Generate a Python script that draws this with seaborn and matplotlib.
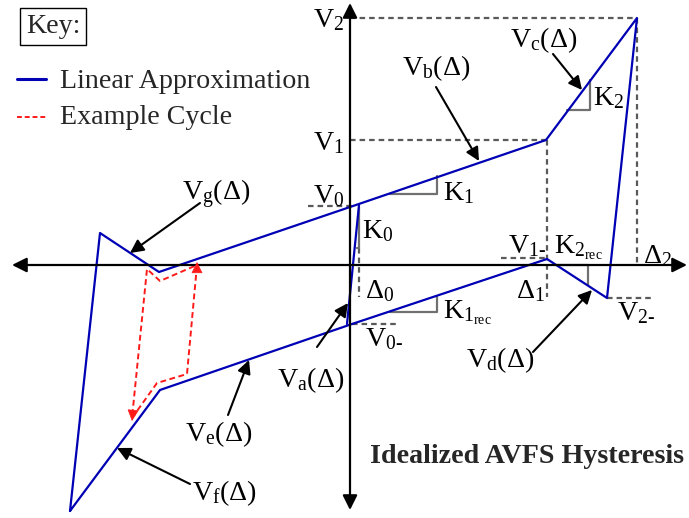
import numpy as np
import pandas as pd
import matplotlib
matplotlib.use("Agg")
import matplotlib.pyplot as plt
import seaborn as sns

sns.set_theme(style="white")
plt.rcParams["font.family"] = ["Liberation Serif", "DejaVu Sans"]
plt.rcParams["mathtext.fontset"] = "custom"
plt.rcParams["mathtext.rm"] = "Liberation Serif"
plt.rcParams["mathtext.it"] = "Liberation Serif:italic"
plt.rcParams["mathtext.bf"] = "Liberation Serif:bold"

# Backbone / hysteresis envelope (displacement, force), idealized units
loop_x = [-280, -250, -191, 3, 196, 287, 257, 197, 2, -190, -280]
loop_y = [-246, 32, -7, 59, 125, 247, -33, 6, -59, -125, -246]
# Initial stiffness branch V_a
va_x = [-3, 9]
va_y = [-59, 60]

# Example cycle
cyc_x = [-218, -193, -163, -153, -153, -190, -203, -218]
cyc_y = [-153, -118, -109, 0, 0, -16, -4, -153]

# Reference (dashed) lines: name -> (x0, y0, x1, y1)
ref_lines = {
    "V2": (0, 247, 287, 247), "D2": (287, 247, 287, 0),
    "V1": (0, 125, 197, 125), "D1": (197, 125, 197, -32),
    "V0": (-42, 59, 3, 59), "D0": (9, 17, 9, -32),
    "V0m": (2, -59, 48, -59), "V1m": (151, 7, 197, 7),
    "V2m": (257, -33, 303, -33),
}
# Stiffness triangles
tri = {
    "K0": ([9, 9, 7], [58, 17, 17]),
    "K1": ([40, 87, 87], [71, 71, 89]),
    "K1rec": ([40, 87, 87], [-47, -47, -32]),
    "K2": ([217, 240, 240], [155, 155, 185]),
    "K2rec": ([206, 238, 238], [0, 0, -20]),
}

BLUE = "#0000b4"
RED = "#ff1a1a"
GRAY = "#5a5a5a"
FS = 20.2

fig = plt.figure(figsize=(6.89, 5.18), dpi=100)
ax = fig.add_axes([0, 0, 1, 1])
ax.set_xlim(-350, 339)
ax.set_ylim(-253, 265)
ax.axis("off")

# Coordinate axes with arrowheads
ax.annotate("", xy=(-338, 0), xytext=(337, 0),
            arrowprops=dict(arrowstyle="<|-|>", color="black", lw=1.6,
                            mutation_scale=22, shrinkA=0, shrinkB=0))
ax.annotate("", xy=(0, 262), xytext=(0, -245),
            arrowprops=dict(arrowstyle="<|-|>", color="black", lw=1.6,
                            mutation_scale=22, shrinkA=0, shrinkB=0))

# Dashed reference lines
ref_df = pd.DataFrame(
    [(k, x, y) for k, (x0, y0, x1, y1) in ref_lines.items()
     for x, y in ((x0, y0), (x1, y1))],
    columns=["seg", "x", "y"])
sns.lineplot(data=ref_df, x="x", y="y", units="seg", estimator=None, sort=False,
             color=GRAY, lw=1.6, linestyle=(0, (2.5, 1.8)), ax=ax, legend=False)

# Stiffness triangles
tri_df = pd.DataFrame(
    [(k, x, y) for k, (xs, ys) in tri.items() for x, y in zip(xs, ys)],
    columns=["seg", "x", "y"])
sns.lineplot(data=tri_df, x="x", y="y", units="seg", estimator=None, sort=False,
             color="#707070", lw=1.6, ax=ax, legend=False)

# Envelope
sns.lineplot(x=loop_x, y=loop_y, sort=False, estimator=None, color=BLUE, lw=1.6, ax=ax)
sns.lineplot(x=va_x, y=va_y, sort=False, estimator=None, color=BLUE, lw=1.6, ax=ax)

# Example cycle
sns.lineplot(x=cyc_x, y=cyc_y, sort=False, estimator=None, color=RED, lw=1.4,
             linestyle=(0, (3, 1.8)), ax=ax)
for tip, back in (((-153, 3), (-153, -6)), ((-218, -156), (-217, -146))):
    ax.annotate("", xy=tip, xytext=back,
                arrowprops=dict(arrowstyle="-|>", color=RED, lw=0.5,
                                mutation_scale=18, shrinkA=0, shrinkB=0))

# Pointer arrows for branch labels
pointers = [((86, 178), (129, 104)), ((203, 211), (232, 175)),
            ((-150, 62), (-220, 12)), ((-33, -82), (-2, -38)),
            ((183, -87), (242, -25)), ((-122, -150), (-101, -95)),
            ((-160, -219), (-233, -183))]
for tail, tip in pointers:
    ax.annotate("", xy=tip, xytext=tail,
                arrowprops=dict(arrowstyle="-|>", color="black", lw=1.5,
                                mutation_scale=20, shrinkA=0, shrinkB=0))

# Labels: (x, y baseline, text)
labels = [
    (-37, 238, r"V$_\mathrm{2}$"),
    (-37, 115, r"V$_\mathrm{1}$"),
    (-37, 62, r"V$_\mathrm{0}$"),
    (12, 27, r"K$_\mathrm{0}$"),
    (93, 65, r"K$_\mathrm{1}$"),
    (15, -33, r"Δ$_\mathrm{0}$"),
    (93, -53, r"K$_{\mathrm{1}_{\mathrm{rec}}}$"),
    (15, -81, r"V$_{\mathrm{0}\text{-}}$"),
    (158, 12, r"V$_{\mathrm{1}\text{-}}$"),
    (204, 12, r"K$_{\mathrm{2}_{\mathrm{rec}}}$"),
    (166, -33, r"Δ$_\mathrm{1}$"),
    (293, 2, r"Δ$_\mathrm{2}$"),
    (267, -55, r"V$_{\mathrm{2}\text{-}}$"),
    (243, 160, r"K$_\mathrm{2}$"),
    (160, 218, r"V$_\mathrm{c}$(Δ)"),
    (52, 190, r"V$_\mathrm{b}$(Δ)"),
    (-168, 65, r"V$_\mathrm{g}$(Δ)"),
    (-73, -122, r"V$_\mathrm{a}$(Δ)"),
    (116, -102, r"V$_\mathrm{d}$(Δ)"),
    (-165, -176, r"V$_\mathrm{e}$(Δ)"),
    (-158, -235, r"V$_\mathrm{f}$(Δ)"),
]
for x, y, s in labels:
    ax.text(x, y, s, fontsize=FS, ha="left", va="baseline", color="black")

ax.text(20, -198, "Idealized AVFS Hysteresis", fontsize=FS, fontweight="bold",
        ha="left", va="baseline")

# Key
ax.text(-324, 232, "Key:", fontsize=FS, ha="left", va="baseline",
        bbox=dict(boxstyle="square,pad=0.2", fc="white", ec="black", lw=1.0))
sns.lineplot(x=[-333, -304], y=[186, 186], color=BLUE, lw=2.2, ax=ax)
sns.lineplot(x=[-333, -304], y=[148, 148], color=RED, lw=1.4,
             linestyle=(0, (2.5, 1.5)), ax=ax)
ax.text(-290, 177, "Linear Approximation", fontsize=FS, ha="left", va="baseline")
ax.text(-290, 141, "Example Cycle", fontsize=FS, ha="left", va="baseline")

fig.savefig("out.png", dpi=100)
